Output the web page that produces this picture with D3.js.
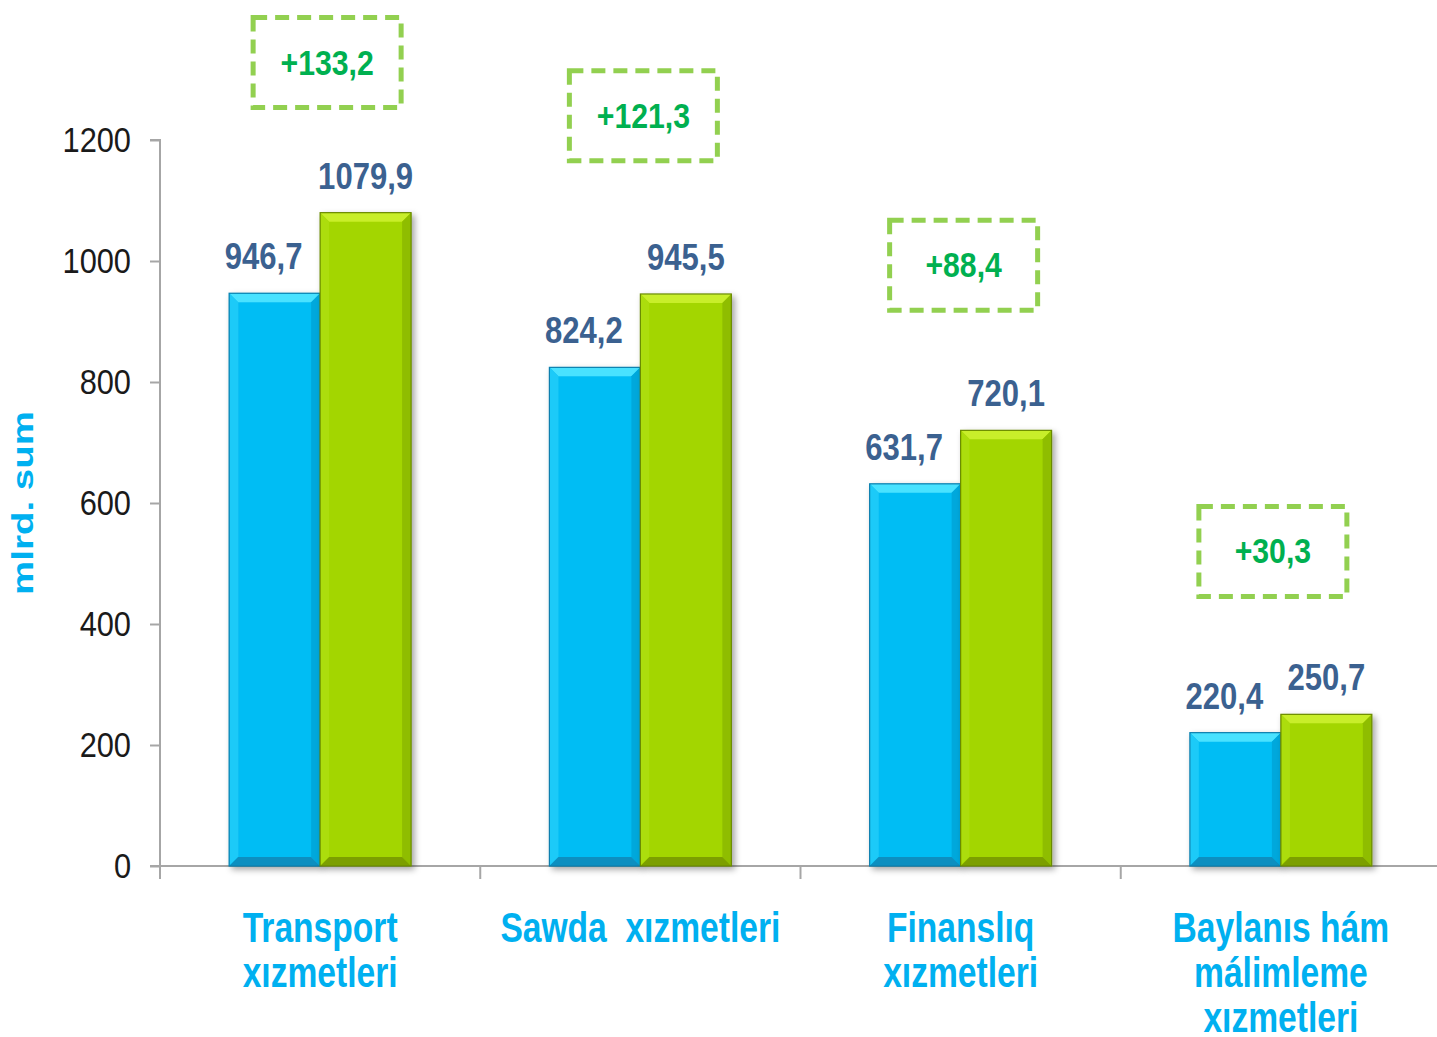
<!DOCTYPE html>
<html lang="en">
  <head>
    <meta charset="utf-8" />
    <script src="https://d3js.org/d3.v7.min.js"></script>
    <style>
      body { margin: 0; background: #fff; }
      text { font-family: "Liberation Sans", Arial, sans-serif; }
    </style>
    <title>Xızmetler</title>
  </head>
  <body>
    <div id="my_dataviz"></div>
    <script>
      // data
      var categories = [
        ["Transport", "xızmetleri"],
        ["Sawda  xızmetleri"],
        ["Finanslıq", "xızmetleri"],
        ["Baylanıs hám", "málimleme", "xızmetleri"]
      ];
      var series = ["prev", "curr"];
      var prevValues = [946.7, 824.2, 631.7, 220.4];
      var currValues = [1079.9, 945.5, 720.1, 250.7];
      var yTicks = [0, 200, 400, 600, 800, 1000, 1200];
      // level (in axis units) where each growth box is centred, and its sideways nudge
      var boxLevel = [1328, 1240, 993, 520];
      var boxNudge = [7, 3, 3, -8];

      var W = 1437, H = 1037;
      var sx = 0.84; // condensed look of the original

      var svg = d3.select("#my_dataviz").append("svg")
        .attr("width", W).attr("height", H);

      var defs = svg.append("defs");
      var f = defs.append("filter").attr("id", "shadow")
        .attr("x", "-10%").attr("y", "-10%").attr("width", "130%").attr("height", "130%");
      f.append("feDropShadow").attr("dx", 3).attr("dy", 3)
        .attr("stdDeviation", 3).attr("flood-color", "#000").attr("flood-opacity", 0.35);

      // scales
      var x0 = d3.scaleBand().domain(d3.range(categories.length)).range([160, 1441]);
      var x1 = d3.scaleBand().domain(series).range([0, x0.bandwidth()])
        .paddingInner(0).paddingOuter(0.76);
      var y = d3.scaleLinear().domain([0, 1200]).range([866, 140]);

      var axisColor = "#a6a6a6";

      // y axis
      var yAxis = svg.append("g").attr("transform", "translate(160,0)")
        .call(d3.axisLeft(y).tickValues(yTicks).tickSize(10).tickFormat(""));
      yAxis.select(".domain").attr("stroke", axisColor).attr("stroke-width", 2)
        .attr("d", "M-10," + y(1200) + "H0V" + y(0));
      yAxis.selectAll(".tick line").attr("stroke", axisColor).attr("stroke-width", 2);

      svg.append("g").selectAll("text").data(yTicks).enter().append("text")
        .attr("transform", function (d) { return "translate(131," + (y(d) + 12) + ") scale(0.88,1)"; })
        .attr("text-anchor", "end")
        .style("font-size", "35px")
        .style("fill", "#1a1a1a")
        .text(function (d) { return d; });

      // x axis
      var xLine = svg.append("g");
      xLine.append("line").attr("x1", 150).attr("x2", 1441)
        .attr("y1", y(0)).attr("y2", y(0))
        .attr("stroke", axisColor).attr("stroke-width", 2);
      xLine.selectAll(".xt").data(d3.range(categories.length + 1)).enter().append("line")
        .attr("x1", function (i) { return i < categories.length ? x0(i) : x0.range()[1] - 1; })
        .attr("x2", function (i) { return i < categories.length ? x0(i) : x0.range()[1] - 1; })
        .attr("y1", y(0)).attr("y2", y(0) + 13)
        .attr("stroke", axisColor).attr("stroke-width", 2);

      // bars
      var palette = {
        prev: { base: "#06bdf4", top: "#48e2ff", left: "#1ccaf8", right: "#03a8dc", bottom: "#0a8fc0", edge: "#0a7fae" },
        curr: { base: "#a3d600", top: "#c8ee2a", left: "#acdd08", right: "#8fbd00", bottom: "#7b9f00", edge: "#6a8a00" }
      };
      var rows = [];
      categories.forEach(function (c, i) {
        rows.push({ i: i, s: "prev", v: prevValues[i] });
        rows.push({ i: i, s: "curr", v: currValues[i] });
      });

      var bars = svg.append("g").selectAll("g.bar").data(rows).enter().append("g")
        .attr("class", "bar")
        .attr("filter", "url(#shadow)");
      bars.each(function (d) {
        var g = d3.select(this);
        var c = palette[d.s];
        var bx = x0(d.i) + x1(d.s), bw = x1.bandwidth();
        var by = y(d.v), bh = y(0) - y(d.v);
        var b = 9;
        g.append("rect").attr("x", bx).attr("y", by).attr("width", bw).attr("height", bh)
          .attr("fill", c.base);
        var pts = function (a) { return a.map(function (p) { return p.join(","); }).join(" "); };
        g.append("polygon").attr("fill", c.top)
          .attr("points", pts([[bx, by], [bx + bw, by], [bx + bw - b, by + b], [bx + b, by + b]]));
        g.append("polygon").attr("fill", c.left)
          .attr("points", pts([[bx, by], [bx + b, by + b], [bx + b, by + bh - b], [bx, by + bh]]));
        g.append("polygon").attr("fill", c.right)
          .attr("points", pts([[bx + bw, by], [bx + bw - b, by + b], [bx + bw - b, by + bh - b], [bx + bw, by + bh]]));
        g.append("polygon").attr("fill", c.bottom)
          .attr("points", pts([[bx, by + bh], [bx + b, by + bh - b], [bx + bw - b, by + bh - b], [bx + bw, by + bh]]));
        g.append("rect").attr("x", bx).attr("y", by).attr("width", bw).attr("height", bh)
          .attr("fill", "none").attr("stroke", c.edge).attr("stroke-width", 1.2);
      });

      // value labels
      svg.append("g").selectAll("text").data(rows).enter().append("text")
        .attr("transform", function (d) {
          var cx = x0(d.i) + x1(d.s) + x1.bandwidth() / 2 + (d.s === "prev" ? -11 : 0);
          return "translate(" + cx + "," + (y(d.v) - 24) + ") scale(" + sx + ",1)";
        })
        .attr("text-anchor", "middle")
        .style("font-size", "37px")
        .style("font-weight", "bold")
        .style("fill", "#3b6190")
        .text(function (d) { return d3.format(".1f")(d.v).replace(".", ","); });

      // growth boxes
      var boxW = 148, boxH = 90;
      var boxes = svg.append("g").selectAll("g").data(categories).enter().append("g")
        .attr("transform", function (c, i) {
          return "translate(" + (x0(i) + x0.bandwidth() / 2 + boxNudge[i]) + "," + y(boxLevel[i]) + ")";
        });
      boxes.append("rect")
        .attr("x", -boxW / 2).attr("y", -boxH / 2).attr("width", boxW).attr("height", boxH)
        .attr("fill", "none").attr("stroke", "#92d050").attr("stroke-width", 5)
        .attr("stroke-dasharray", "14,8");
      boxes.append("text")
        .attr("transform", "translate(0,12) scale(" + sx + ",1)")
        .attr("text-anchor", "middle")
        .style("font-size", "36px")
        .style("font-weight", "bold")
        .style("fill", "#00b050")
        .text(function (c, i) { return "+" + d3.format(".1f")(currValues[i] - prevValues[i]).replace(".", ","); });

      // category labels
      var cats = svg.append("g").selectAll("text").data(categories).enter().append("text")
        .attr("transform", function (c, i) {
          return "translate(" + (x0(i) + x0.bandwidth() / 2) + ",942) scale(0.8,1)";
        })
        .attr("text-anchor", "middle")
        .style("font-size", "42px")
        .style("font-weight", "bold")
        .style("fill", "#00b0f0");
      cats.selectAll("tspan").data(function (c) { return c; }).enter().append("tspan")
        .attr("x", 0)
        .attr("dy", function (t, j) { return j === 0 ? 0 : 45; })
        .style("white-space", "pre")
        .text(function (t) { return t; });

      // y title
      svg.append("text")
        .attr("transform", "translate(33,503) rotate(-90) scale(1.04,0.82)")
        .attr("text-anchor", "middle")
        .style("font-size", "37px")
        .style("font-weight", "bold")
        .style("fill", "#00b0f0")
        .text("mlrd. sum");
    </script>
  </body>
</html>
